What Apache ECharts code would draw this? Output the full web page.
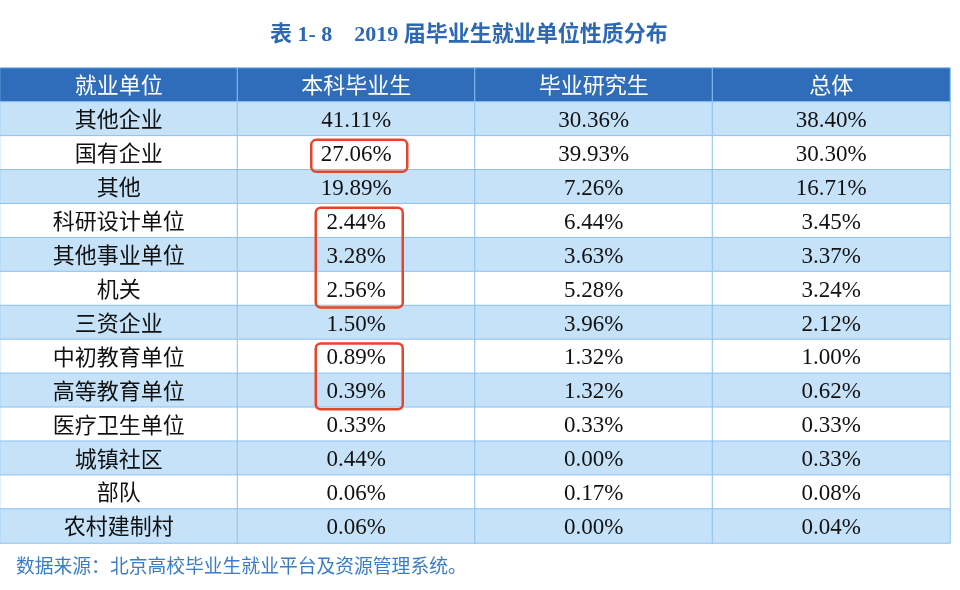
<!DOCTYPE html>
<html>
<head>
<meta charset="utf-8">
<script src="https://cdn.jsdelivr.net/npm/echarts@6/dist/echarts.min.js"></script>
<style>html,body{margin:0;padding:0;background:#fff}#c{width:960px;height:590px}</style>
</head>
<body>
<div id="c"></div>
<script>
var headers = ['就业单位', '本科毕业生', '毕业研究生', '总体'];
var units = ['其他企业', '国有企业', '其他', '科研设计单位', '其他事业单位', '机关', '三资企业', '中初教育单位', '高等教育单位', '医疗卫生单位', '城镇社区', '部队', '农村建制村'];
var undergrad = [41.11, 27.06, 19.89, 2.44, 3.28, 2.56, 1.50, 0.89, 0.39, 0.33, 0.44, 0.06, 0.06];
var graduate = [30.36, 39.93, 7.26, 6.44, 3.63, 5.28, 3.96, 1.32, 1.32, 0.33, 0.00, 0.17, 0.00];
var overall = [38.40, 30.30, 16.71, 3.45, 3.37, 3.24, 2.12, 1.00, 0.62, 0.33, 0.33, 0.08, 0.04];
// highlighted groups: [column, firstRow, lastRow] (row index within units)
var highlights = [[1, 1, 1], [1, 3, 5], [1, 7, 8]];

var rowCats = ['h'].concat(units.map(function (u, i) { return 'r' + i; }));
var colCats = headers.slice();

var cjk = '"Noto Sans CJK SC", "Noto Sans", sans-serif';
var serif = '"Liberation Serif", "DejaVu Serif", serif';

var data = [];
headers.forEach(function (h, c) {
  data.push({
    value: [c, 0, 0],
    text: h,
    itemStyle: { color: '#2f6cb9', borderColor: '#8dc2f1', borderWidth: 1 },
    label: { color: '#ffffff', fontFamily: cjk, fontSize: 22 }
  });
});
units.forEach(function (u, i) {
  var fill = (i % 2 === 0) ? '#c6e2f8' : '#ffffff';
  var vals = [undergrad[i], graduate[i], overall[i]];
  data.push({
    value: [0, i + 1, 1],
    text: u,
    itemStyle: { color: fill, borderColor: '#8dc2f1', borderWidth: 1 },
    label: { color: '#111111', fontFamily: cjk, fontSize: 22 }
  });
  vals.forEach(function (v, k) {
    data.push({
      value: [k + 1, i + 1, v],
      text: v.toFixed(2) + '%',
      itemStyle: { color: fill, borderColor: '#8dc2f1', borderWidth: 1 },
      label: { color: '#111111', fontFamily: serif, fontSize: 23, offset: [0, 2] }
    });
  });
});

var chart = echarts.init(document.getElementById('c'), null, { renderer: 'canvas' });
chart.setOption({
  animation: false,
  title: [{
    text: '表 1- 8    2019 届毕业生就业单位性质分布',
    left: 265,
    top: 19,
    textStyle: { color: '#2c68b3', fontSize: 22, fontWeight: 'bold', fontFamily: serif + ',' + cjk }
  }, {
    text: '数据来源：北京高校毕业生就业平台及资源管理系统。',
    left: 11,
    top: 551,
    textStyle: { color: '#3b7cc7', fontSize: 18.8, fontWeight: 'normal', fontFamily: cjk }
  }],
  grid: { left: 0, right: 10, top: 68, height: 475, containLabel: false },
  xAxis: { type: 'category', data: colCats, show: false },
  yAxis: { type: 'category', data: rowCats, inverse: true, show: false },
  series: [{
    type: 'heatmap',
    data: data,
    label: {
      show: true,
      formatter: function (p) { return p.data.text; }
    },
    emphasis: { disabled: true }
  }]
});

// red highlight boxes placed through the axes
var g = [];
var cellH = 475 / 14;
highlights.forEach(function (hl, n) {
  var p1 = chart.convertToPixel({ gridIndex: 0 }, [hl[0], hl[1] + 1]);
  var p2 = chart.convertToPixel({ gridIndex: 0 }, [hl[0], hl[2] + 1]);
  var w = n === 0 ? 96 : 87;
  var cx = p1[0] + 3;
  var y1 = p1[1] - cellH / 2 + 4;
  var y2 = p2[1] + cellH / 2 + 2;
  g.push({
    type: 'rect',
    shape: { x: cx - w / 2, y: y1, width: w, height: y2 - y1, r: 5 },
    style: { fill: 'none', stroke: '#e8442b', lineWidth: 2.5 },
    z: 100
  });
});
chart.setOption({ graphic: g });
</script>
</body>
</html>
